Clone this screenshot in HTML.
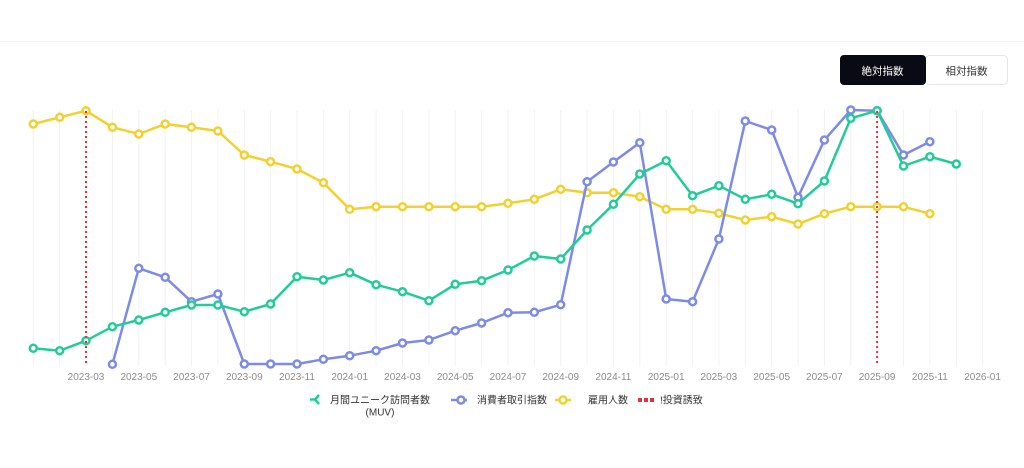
<!DOCTYPE html>
<html><head><meta charset="utf-8"><style>
html,body{margin:0;padding:0;background:#fff;width:1024px;height:468px;overflow:hidden}
svg{display:block}
text{font-family:"Liberation Sans","Noto Sans CJK JP",sans-serif}
</style></head><body>
<svg width="1024" height="468" viewBox="0 0 1024 468" xmlns="http://www.w3.org/2000/svg">
<line x1="0" y1="41.5" x2="1024" y2="41.5" stroke="#f3f3f3" stroke-width="1"/>
<!-- buttons -->
<rect x="925.5" y="55.5" width="82" height="29" rx="4" fill="#fff" stroke="#e6e6e6"/>
<rect x="840" y="55" width="86" height="30" rx="4" fill="#0a0a14"/>
<text x="882.5" y="74.5" font-size="10.5" fill="#fff" text-anchor="middle">絶対指数</text>
<text x="966.5" y="74.5" font-size="10.5" fill="#333" text-anchor="middle">相対指数</text>
<!-- gridlines -->
<g stroke="#f2f2f2" stroke-width="1">
<line x1="33.3" y1="110" x2="33.3" y2="366"/><line x1="59.7" y1="110" x2="59.7" y2="366"/><line x1="86" y1="110" x2="86" y2="366"/><line x1="112.4" y1="110" x2="112.4" y2="366"/><line x1="138.8" y1="110" x2="138.8" y2="366"/><line x1="165.2" y1="110" x2="165.2" y2="366"/><line x1="191.5" y1="110" x2="191.5" y2="366"/><line x1="217.9" y1="110" x2="217.9" y2="366"/><line x1="244.3" y1="110" x2="244.3" y2="366"/><line x1="270.6" y1="110" x2="270.6" y2="366"/><line x1="297" y1="110" x2="297" y2="366"/><line x1="323.4" y1="110" x2="323.4" y2="366"/><line x1="349.7" y1="110" x2="349.7" y2="366"/><line x1="376.1" y1="110" x2="376.1" y2="366"/><line x1="402.5" y1="110" x2="402.5" y2="366"/><line x1="428.9" y1="110" x2="428.9" y2="366"/><line x1="455.2" y1="110" x2="455.2" y2="366"/><line x1="481.6" y1="110" x2="481.6" y2="366"/><line x1="508" y1="110" x2="508" y2="366"/><line x1="534.3" y1="110" x2="534.3" y2="366"/><line x1="560.7" y1="110" x2="560.7" y2="366"/><line x1="587.1" y1="110" x2="587.1" y2="366"/><line x1="613.4" y1="110" x2="613.4" y2="366"/><line x1="639.8" y1="110" x2="639.8" y2="366"/><line x1="666.2" y1="110" x2="666.2" y2="366"/><line x1="692.6" y1="110" x2="692.6" y2="366"/><line x1="718.9" y1="110" x2="718.9" y2="366"/><line x1="745.3" y1="110" x2="745.3" y2="366"/><line x1="771.7" y1="110" x2="771.7" y2="366"/><line x1="798" y1="110" x2="798" y2="366"/><line x1="824.4" y1="110" x2="824.4" y2="366"/><line x1="850.8" y1="110" x2="850.8" y2="366"/><line x1="877.1" y1="110" x2="877.1" y2="366"/><line x1="903.5" y1="110" x2="903.5" y2="366"/><line x1="929.9" y1="110" x2="929.9" y2="366"/><line x1="956.3" y1="110" x2="956.3" y2="366"/><line x1="982.6" y1="110" x2="982.6" y2="366"/>
</g>
<!-- x labels -->
<g font-size="10" fill="#8c8c8c" text-anchor="middle">
<text x="86" y="380">2023-03</text><text x="138.8" y="380">2023-05</text><text x="191.5" y="380">2023-07</text><text x="244.3" y="380">2023-09</text><text x="297" y="380">2023-11</text><text x="349.7" y="380">2024-01</text><text x="402.5" y="380">2024-03</text><text x="455.2" y="380">2024-05</text><text x="508" y="380">2024-07</text><text x="560.7" y="380">2024-09</text><text x="613.4" y="380">2024-11</text><text x="666.2" y="380">2025-01</text><text x="718.9" y="380">2025-03</text><text x="771.7" y="380">2025-05</text><text x="824.4" y="380">2025-07</text><text x="877.1" y="380">2025-09</text><text x="929.9" y="380">2025-11</text><text x="982.6" y="380">2026-01</text>
</g>
<!-- yellow -->
<g stroke="#f4d02e" stroke-width="2.5" fill="#fff">
<polyline fill="none" stroke-linejoin="round" points="33.3,124 59.7,117.3 86,110.7 112.4,127.3 138.8,134 165.2,124 191.5,127.3 217.9,131 244.3,155 270.6,161.7 297,169 323.4,182.7 349.7,209.3 376.1,206.7 402.5,206.7 428.9,206.7 455.2,206.7 481.6,206.7 508,203.3 534.3,199.3 560.7,189.3 587.1,192.7 613.4,192.7 639.8,196.7 666.2,209.3 692.6,209.3 718.9,213.3 745.3,220 771.7,216.7 798,224 824.4,213.7 850.8,206.7 877.1,206.7 903.5,206.7 929.9,213.7"/>
<circle cx="33.3" cy="124" r="3.5"/><circle cx="59.7" cy="117.3" r="3.5"/><circle cx="86" cy="110.7" r="3.5"/><circle cx="112.4" cy="127.3" r="3.5"/><circle cx="138.8" cy="134" r="3.5"/><circle cx="165.2" cy="124" r="3.5"/><circle cx="191.5" cy="127.3" r="3.5"/><circle cx="217.9" cy="131" r="3.5"/><circle cx="244.3" cy="155" r="3.5"/><circle cx="270.6" cy="161.7" r="3.5"/><circle cx="297" cy="169" r="3.5"/><circle cx="323.4" cy="182.7" r="3.5"/><circle cx="349.7" cy="209.3" r="3.5"/><circle cx="376.1" cy="206.7" r="3.5"/><circle cx="402.5" cy="206.7" r="3.5"/><circle cx="428.9" cy="206.7" r="3.5"/><circle cx="455.2" cy="206.7" r="3.5"/><circle cx="481.6" cy="206.7" r="3.5"/><circle cx="508" cy="203.3" r="3.5"/><circle cx="534.3" cy="199.3" r="3.5"/><circle cx="560.7" cy="189.3" r="3.5"/><circle cx="587.1" cy="192.7" r="3.5"/><circle cx="613.4" cy="192.7" r="3.5"/><circle cx="639.8" cy="196.7" r="3.5"/><circle cx="666.2" cy="209.3" r="3.5"/><circle cx="692.6" cy="209.3" r="3.5"/><circle cx="718.9" cy="213.3" r="3.5"/><circle cx="745.3" cy="220" r="3.5"/><circle cx="771.7" cy="216.7" r="3.5"/><circle cx="798" cy="224" r="3.5"/><circle cx="824.4" cy="213.7" r="3.5"/><circle cx="850.8" cy="206.7" r="3.5"/><circle cx="877.1" cy="206.7" r="3.5"/><circle cx="903.5" cy="206.7" r="3.5"/><circle cx="929.9" cy="213.7" r="3.5"/>
</g>
<!-- blue -->
<g stroke="#7d8ae8" stroke-width="2.5" fill="#fff">
<polyline fill="none" stroke-linejoin="round" points="112.4,364.3 138.8,268.3 165.2,277.3 191.5,301.7 217.9,294 244.3,364 270.6,364 297,364 323.4,359.3 349.7,355.7 376.1,350.7 402.5,343 428.9,340 455.2,330.7 481.6,323 508,312.7 534.3,312.3 560.7,304.7 587.1,181.7 613.4,162 639.8,142.7 666.2,299 692.6,301.7 718.9,239 745.3,121 771.7,130 798,197.3 824.4,140 850.8,110 877.1,110.7 903.5,155 929.9,141.7"/>
<circle cx="112.4" cy="364.3" r="3.5"/><circle cx="138.8" cy="268.3" r="3.5"/><circle cx="165.2" cy="277.3" r="3.5"/><circle cx="191.5" cy="301.7" r="3.5"/><circle cx="217.9" cy="294" r="3.5"/><circle cx="244.3" cy="364" r="3.5"/><circle cx="270.6" cy="364" r="3.5"/><circle cx="297" cy="364" r="3.5"/><circle cx="323.4" cy="359.3" r="3.5"/><circle cx="349.7" cy="355.7" r="3.5"/><circle cx="376.1" cy="350.7" r="3.5"/><circle cx="402.5" cy="343" r="3.5"/><circle cx="428.9" cy="340" r="3.5"/><circle cx="455.2" cy="330.7" r="3.5"/><circle cx="481.6" cy="323" r="3.5"/><circle cx="508" cy="312.7" r="3.5"/><circle cx="534.3" cy="312.3" r="3.5"/><circle cx="560.7" cy="304.7" r="3.5"/><circle cx="587.1" cy="181.7" r="3.5"/><circle cx="613.4" cy="162" r="3.5"/><circle cx="639.8" cy="142.7" r="3.5"/><circle cx="666.2" cy="299" r="3.5"/><circle cx="692.6" cy="301.7" r="3.5"/><circle cx="718.9" cy="239" r="3.5"/><circle cx="745.3" cy="121" r="3.5"/><circle cx="771.7" cy="130" r="3.5"/><circle cx="798" cy="197.3" r="3.5"/><circle cx="824.4" cy="140" r="3.5"/><circle cx="850.8" cy="110" r="3.5"/><circle cx="877.1" cy="110.7" r="3.5"/><circle cx="903.5" cy="155" r="3.5"/><circle cx="929.9" cy="141.7" r="3.5"/>
</g>
<!-- green -->
<g stroke="#22cc98" stroke-width="2.5" fill="#fff">
<polyline fill="none" stroke-linejoin="round" points="33.3,348.3 59.7,350.7 86,340.7 112.4,326.7 138.8,320 165.2,312.3 191.5,305 217.9,305 244.3,311.7 270.6,304 297,276.7 323.4,280 349.7,272.7 376.1,284.7 402.5,291.7 428.9,300.7 455.2,284.3 481.6,280.7 508,270 534.3,256 560.7,259 587.1,230 613.4,204.3 639.8,174 666.2,160.7 692.6,195.7 718.9,185.7 745.3,199.3 771.7,194.3 798,203.7 824.4,181 850.8,118.3 877.1,110.7 903.5,166 929.9,156.7 956.3,164"/>
<circle cx="33.3" cy="348.3" r="3.5"/><circle cx="59.7" cy="350.7" r="3.5"/><circle cx="86" cy="340.7" r="3.5"/><circle cx="112.4" cy="326.7" r="3.5"/><circle cx="138.8" cy="320" r="3.5"/><circle cx="165.2" cy="312.3" r="3.5"/><circle cx="191.5" cy="305" r="3.5"/><circle cx="217.9" cy="305" r="3.5"/><circle cx="244.3" cy="311.7" r="3.5"/><circle cx="270.6" cy="304" r="3.5"/><circle cx="297" cy="276.7" r="3.5"/><circle cx="323.4" cy="280" r="3.5"/><circle cx="349.7" cy="272.7" r="3.5"/><circle cx="376.1" cy="284.7" r="3.5"/><circle cx="402.5" cy="291.7" r="3.5"/><circle cx="428.9" cy="300.7" r="3.5"/><circle cx="455.2" cy="284.3" r="3.5"/><circle cx="481.6" cy="280.7" r="3.5"/><circle cx="508" cy="270" r="3.5"/><circle cx="534.3" cy="256" r="3.5"/><circle cx="560.7" cy="259" r="3.5"/><circle cx="587.1" cy="230" r="3.5"/><circle cx="613.4" cy="204.3" r="3.5"/><circle cx="639.8" cy="174" r="3.5"/><circle cx="666.2" cy="160.7" r="3.5"/><circle cx="692.6" cy="195.7" r="3.5"/><circle cx="718.9" cy="185.7" r="3.5"/><circle cx="745.3" cy="199.3" r="3.5"/><circle cx="771.7" cy="194.3" r="3.5"/><circle cx="798" cy="203.7" r="3.5"/><circle cx="824.4" cy="181" r="3.5"/><circle cx="850.8" cy="118.3" r="3.5"/><circle cx="877.1" cy="110.7" r="3.5"/><circle cx="903.5" cy="166" r="3.5"/><circle cx="929.9" cy="156.7" r="3.5"/><circle cx="956.3" cy="164" r="3.5"/>
</g>
<!-- red dotted -->
<g stroke="#e0323c" stroke-width="2" stroke-dasharray="2,3">
<line x1="86" y1="111" x2="86" y2="366"/>
<line x1="877.1" y1="111" x2="877.1" y2="366"/>
</g>
<!-- legend -->
<g stroke="#22cc98" stroke-width="2.5" fill="none">
<path d="M310,399.5 L315,399.5 M319,395 L315,399.5 L319,404"/>
</g>
<text x="380" y="403.5" font-size="10" fill="#333" text-anchor="middle">月間ユニーク訪問者数</text>
<text x="380" y="415.5" font-size="10" fill="#333" text-anchor="middle">(MUV)</text>
<line x1="451" y1="400" x2="467" y2="400" stroke="#7d8ae8" stroke-width="2.5"/>
<circle cx="461" cy="400" r="3.5" fill="#fff" stroke="#7d8ae8" stroke-width="2.5"/>
<text x="477" y="403.5" font-size="10" fill="#333">消費者取引指数</text>
<line x1="555" y1="400" x2="571" y2="400" stroke="#f4d02e" stroke-width="2.5"/>
<circle cx="563" cy="400" r="3.5" fill="#fff" stroke="#f4d02e" stroke-width="2.5"/>
<text x="588" y="403.5" font-size="10" fill="#333">雇用人数</text>
<g fill="#e0323c"><rect x="638" y="398" width="4" height="4"/><rect x="644" y="398" width="4" height="4"/><rect x="650" y="398" width="4" height="4"/></g>
<text x="660" y="403.5" font-size="10" fill="#333">!投資誘致</text>
</svg>
</body></html>
